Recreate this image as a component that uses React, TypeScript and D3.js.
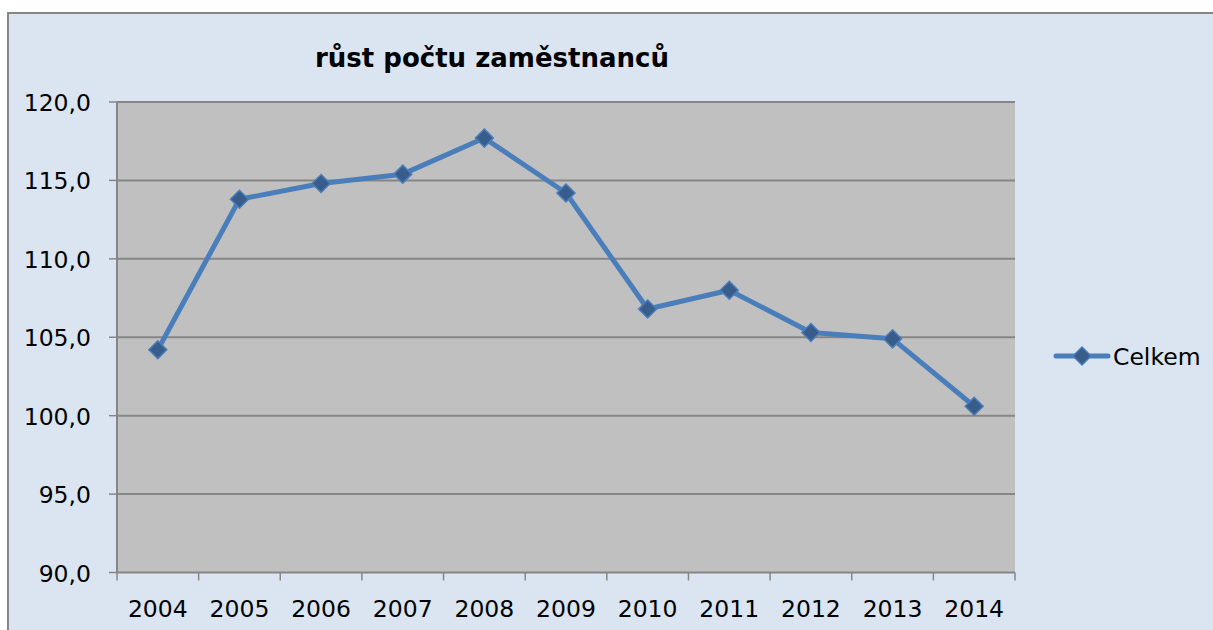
import React from "react";
import * as d3 from "d3";

const years = ["2004", "2005", "2006", "2007", "2008", "2009", "2010", "2011", "2012", "2013", "2014"];
const celkem = [104.2, 113.8, 114.8, 115.4, 117.7, 114.2, 106.8, 108.0, 105.3, 104.9, 100.6];
const yTicks = [90, 95, 100, 105, 110, 115, 120];
const title = "růst počtu zaměstnanců";
const seriesName = "Celkem";

const W = 1213;
const H = 630;
const plot = { left: 117, right: 1015, top: 102, bottom: 572.5 };
const FONT = "'DejaVu Sans', Verdana, sans-serif";
const LINE = "#4a7ebb";
const MARK = "#385d8a";
const AXIS = "#868686";
const TICK_FS = 23.5;

function Diamond({ cx, cy, r }: { cx: number; cy: number; r: number }) {
  const p = `M${cx},${cy - r}L${cx + r},${cy}L${cx},${cy + r}L${cx - r},${cy}Z`;
  return <path d={p} fill={MARK} stroke={LINE} strokeWidth={1.5} />;
}

export default function App() {
  const x = d3.scaleBand<string>().domain(years).range([plot.left, plot.right]).padding(0);
  const y = d3.scaleLinear().domain([90, 120]).range([plot.bottom, plot.top]);
  const line = d3
    .line<number>()
    .x((_, i) => (x(years[i]) as number) + x.bandwidth() / 2)
    .y((d) => y(d));
  const boundaries = [...years.map((yr) => x(yr) as number), plot.right];

  return (
    <svg
      width={W}
      height={H}
      style={{ position: "absolute", left: 0, top: 0, display: "block", background: "#ffffff" }}
    >
      <rect x={8} y={13} width={1230} height={650} fill="#dbe5f1" stroke={AXIS} strokeWidth={2} />
      <text x={492} y={67} textAnchor="middle" fontFamily={FONT} fontWeight="bold" fontSize={26} fill="#000">
        {title}
      </text>
      <rect
        x={plot.left}
        y={plot.top}
        width={plot.right - plot.left}
        height={plot.bottom - plot.top}
        fill="#c0c0c0"
      />
      {yTicks.map((t) => (
        <g key={t}>
          {t !== 90 && (
            <line x1={plot.left} x2={plot.right} y1={y(t)} y2={y(t)} stroke={AXIS} strokeWidth={2} />
          )}
          <line x1={plot.left - 8} x2={plot.left} y1={y(t)} y2={y(t)} stroke={AXIS} strokeWidth={1.5} />
          <text
            x={91}
            y={y(t) + 9}
            textAnchor="end"
            fontFamily={FONT}
            fontSize={TICK_FS}
            fill="#000"
          >
            {d3.format(".1f")(t).replace(".", ",")}
          </text>
        </g>
      ))}
      <line x1={plot.left} x2={plot.left} y1={plot.top} y2={plot.bottom} stroke={AXIS} strokeWidth={2} />
      <line x1={plot.left} x2={plot.right} y1={plot.bottom} y2={plot.bottom} stroke={AXIS} strokeWidth={2} />
      {boundaries.map((bx, i) => (
        <line key={i} x1={bx} x2={bx} y1={plot.bottom} y2={plot.bottom + 8} stroke={AXIS} strokeWidth={1.5} />
      ))}
      {years.map((yr) => (
        <text
          key={yr}
          x={(x(yr) as number) + x.bandwidth() / 2}
          y={617}
          textAnchor="middle"
          fontFamily={FONT}
          fontSize={TICK_FS}
          fill="#000"
        >
          {yr}
        </text>
      ))}
      <path d={line(celkem) || ""} fill="none" stroke={LINE} strokeWidth={5} strokeLinejoin="round" />
      {celkem.map((v, i) => (
        <Diamond key={i} cx={(x(years[i]) as number) + x.bandwidth() / 2} cy={y(v)} r={9} />
      ))}
      <line x1={1056} x2={1108} y1={356} y2={356} stroke={LINE} strokeWidth={5} strokeLinecap="round" />
      <Diamond cx={1082} cy={356} r={9} />
      <text x={1113} y={364.5} fontFamily={FONT} fontSize={TICK_FS} fill="#000">
        {seriesName}
      </text>
    </svg>
  );
}
